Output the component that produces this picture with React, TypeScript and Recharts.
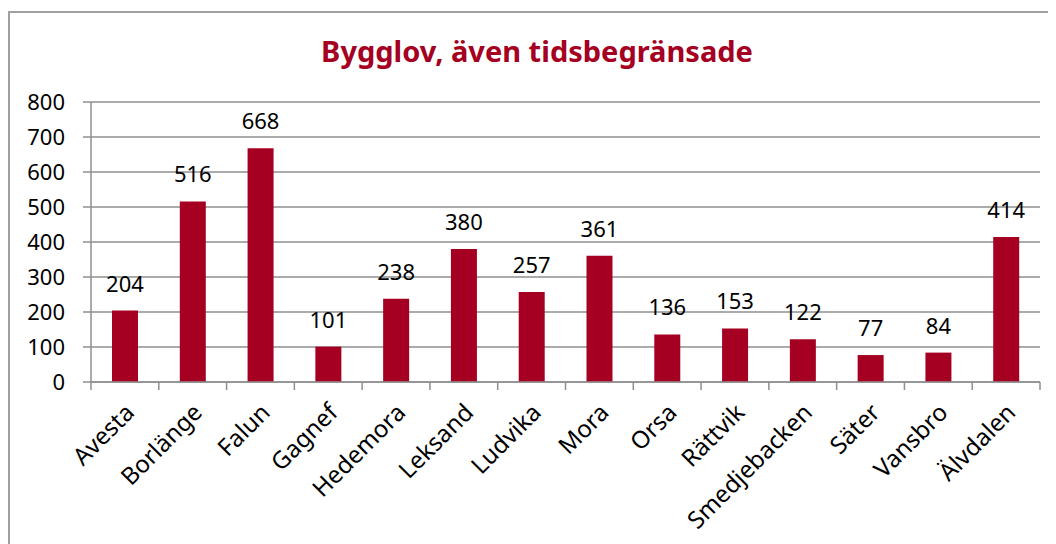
import React from "react";
import {
  BarChart,
  Bar,
  XAxis,
  YAxis,
  CartesianGrid,
  LabelList,
} from "recharts";

const kommuner = [
  "Avesta",
  "Borlänge",
  "Falun",
  "Gagnef",
  "Hedemora",
  "Leksand",
  "Ludvika",
  "Mora",
  "Orsa",
  "Rättvik",
  "Smedjebacken",
  "Säter",
  "Vansbro",
  "Älvdalen",
];
const bygglov = [204, 516, 668, 101, 238, 380, 257, 361, 136, 153, 122, 77, 84, 414];
const yTicks = [0, 100, 200, 300, 400, 500, 600, 700, 800];

const data = kommuner.map((name, i) => ({ name, value: bygglov[i] }));

const W = 1048;
const H = 536;
const LEFT = 83;
const RIGHT = 16;
const BAND = (W - LEFT - RIGHT) / kommuner.length;
const FONT = "'Noto Sans', sans-serif";
const GRID = "#8f8f8f";

const XTick = (props: any) => {
  const { x, y, payload, index } = props;
  const half = BAND / 2;
  const tx = x + 11;
  const ty = y + 32;
  return (
    <g>
      <line x1={x - half} x2={x - half} y1={y} y2={y + 8} stroke={GRID} strokeWidth={1.5} />
      {index === kommuner.length - 1 && (
        <line x1={x + half} x2={x + half} y1={y} y2={y + 8} stroke={GRID} strokeWidth={1.5} />
      )}
      <text
        x={tx}
        y={ty}
        textAnchor="end"
        fontSize={24}
        fill="#000"
        transform={`rotate(-45, ${tx}, ${ty})`}
      >
        {payload.value}
      </text>
    </g>
  );
};

const App = () => {
  return (
    <div style={{ position: "relative", width: W, height: H, overflow: "hidden", fontFamily: FONT }}>
      <div
        style={{
          position: "absolute",
          left: 0,
          top: 3,
          width: W + 40,
          height: H + 40,
          border: "2px solid #a0a0a0",
        }}
      />
      <div
        style={{
          position: "absolute",
          left: 0,
          top: 26,
          width: 1058,
          textAlign: "center",
          fontSize: 29,
          lineHeight: "34px",
          fontWeight: "bold",
          color: "#A50021",
        }}
      >
        Bygglov, även tidsbegränsade
      </div>
      <div style={{ position: "absolute", left: 0, top: 0 }}>
        <BarChart
          width={W}
          height={H}
          data={data}
          margin={{ top: 94, right: RIGHT, left: 0, bottom: 0 }}
          style={{ fontFamily: FONT }}
        >
          <CartesianGrid vertical={false} stroke={GRID} strokeWidth={1.5} />
          <XAxis
            dataKey="name"
            interval={0}
            height={162}
            tickLine={false}
            tickSize={0}
            tickMargin={0}
            axisLine={{ stroke: GRID, strokeWidth: 1.5 }}
            tick={<XTick />}
          />
          <YAxis
            width={LEFT}
            domain={[0, 800]}
            ticks={yTicks}
            interval={0}
            tickSize={8}
            tickMargin={18}
            axisLine={{ stroke: GRID, strokeWidth: 1.5 }}
            tickLine={{ stroke: GRID, strokeWidth: 1.5 }}
            tick={{ fill: "#000", fontSize: 22 }}
          />
          <Bar dataKey="value" fill="#A50021" barSize={26} isAnimationActive={false}>
            <LabelList dataKey="value" position="top" offset={19} fontSize={22} fill="#000" />
          </Bar>
        </BarChart>
      </div>
    </div>
  );
};

export default App;
